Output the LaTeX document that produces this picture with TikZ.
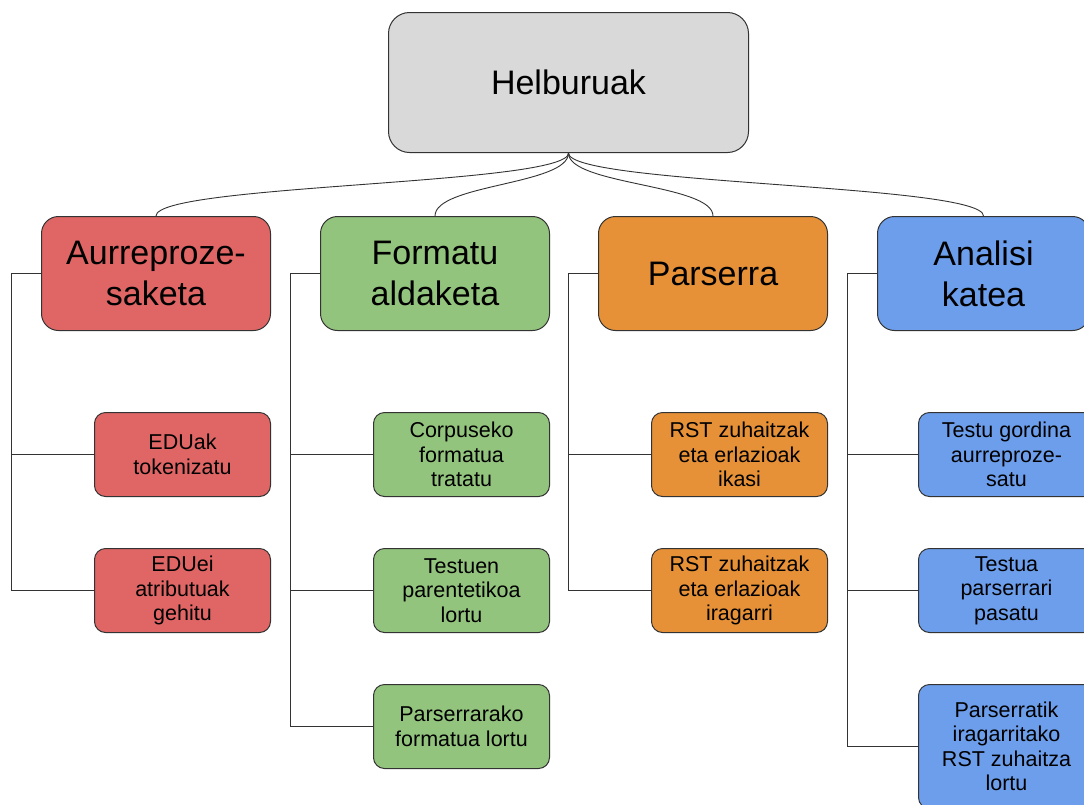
\documentclass[tikz,border=0pt]{standalone}
\usepackage{fontspec}
\setmainfont{Liberation Sans}
\definecolor{rootgray}{HTML}{D9D9D9}
\definecolor{boxred}{HTML}{E06666}
\definecolor{boxgreen}{HTML}{93C47D}
\definecolor{boxorange}{HTML}{E69138}
\definecolor{boxblue}{HTML}{6D9EEB}
\definecolor{edge}{HTML}{333333}
\begin{document}
\begin{tikzpicture}[x=1pt,y=-1pt,
  box/.style={draw=edge, line width=1pt, align=center, inner sep=0pt, anchor=north west, text=black},
  rootbox/.style={box, fill=rootgray, rounded corners=21pt, minimum width=360pt, minimum height=140pt,
    font=\fontsize{34}{40}\selectfont},
  catbox/.style={box, rounded corners=17pt, minimum width=229pt, minimum height=114pt,
    font=\fontsize{34}{41}\selectfont},
  leafbox/.style={box, rounded corners=11pt, minimum width=176pt, minimum height=84pt,
    font=\fontsize{21.5}{24.5}\selectfont},
  link/.style={draw=edge, line width=0.9pt},
]
\useasboundingbox (0,0) rectangle (1084,804);
\clip (0,0) rectangle (1084,804);

% top goal
\node[rootbox] (root) at (388,12) {Helburuak};

% four work packages
\node[catbox, fill=boxred]    (c1) at (41,216)  {Aurreproze-\\saketa};
\node[catbox, fill=boxgreen]  (c2) at (320,216) {Formatu\\aldaketa};
\node[catbox, fill=boxorange] (c3) at (598,216) {Parserra};
\node[catbox, fill=boxblue, minimum width=212pt] (c4) at (877,216) {Analisi\\katea};

% tasks
\node[leafbox, fill=boxred] (r1) at (94,412) {EDUak\\tokenizatu};
\node[leafbox, fill=boxred] (r2) at (94,548) {EDUei\\atributuak\\gehitu};

\node[leafbox, fill=boxgreen] (g1) at (373,412) {Corpuseko\\formatua\\tratatu};
\node[leafbox, fill=boxgreen] (g2) at (373,548) {Testuen\\parentetikoa\\lortu};
\node[leafbox, fill=boxgreen] (g3) at (373,684) {Parserrarako\\formatua lortu};

\node[leafbox, fill=boxorange] (o1) at (651,412) {RST zuhaitzak\\eta erlazioak\\ikasi};
\node[leafbox, fill=boxorange] (o2) at (651,548) {RST zuhaitzak\\eta erlazioak\\iragarri};

\node[leafbox, fill=boxblue] (b1) at (918,412) {Testu gordina\\aurreproze-\\satu};
\node[leafbox, fill=boxblue] (b2) at (918,548) {Testua\\parserrari\\pasatu};
\node[leafbox, fill=boxblue, minimum height=124pt] (b3) at (918,684) {Parserratik\\iragarritako\\RST zuhaitza\\lortu};

% curved links from the goal to the packages
\foreach \c in {c1,c2,c3,c4}
  \draw[link] (root.south) .. controls +(0,32) and +(0,-32) .. (\c.north);

% brackets from each package to its tasks
\draw[link] (c1.west) -- ++(-30,0) coordinate (k1) |- (r2.west);
\draw[link] (k1) |- (r1.west);

\draw[link] (c2.west) -- ++(-30,0) coordinate (k2) |- (g3.west);
\draw[link] (k2) |- (g1.west);
\draw[link] (k2) |- (g2.west);

\draw[link] (c3.west) -- ++(-30,0) coordinate (k3) |- (o2.west);
\draw[link] (k3) |- (o1.west);

\draw[link] (c4.west) -- ++(-30,0) coordinate (k4) |- (b3.west);
\draw[link] (k4) |- (b1.west);
\draw[link] (k4) |- (b2.west);
\end{tikzpicture}
\end{document}
